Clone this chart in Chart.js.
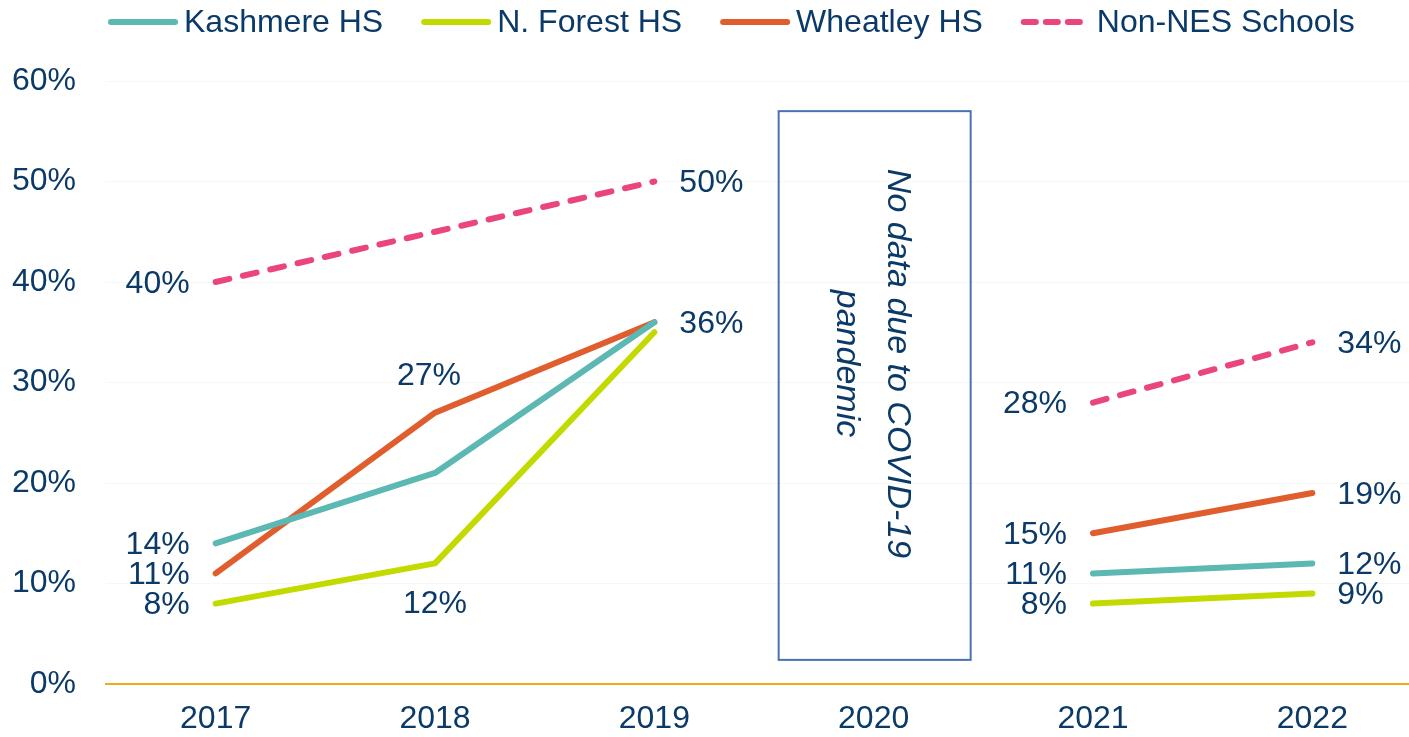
<!DOCTYPE html>
<html>
<head>
<meta charset="utf-8">
<script src="https://cdn.jsdelivr.net/npm/chart.js@4"></script>
<style>
  html, body { margin: 0; padding: 0; background: #fff; overflow: hidden; }
  #wrap { width: 1422px; height: 737px; }
</style>
</head>
<body>
<div id="wrap"><canvas id="chart"></canvas></div>
<script>
const years      = ['2017', '2018', '2019', '2020', '2021', '2022'];
const kashmere   = [14, 21, 36, null, 11, 12];
const northForest = [8, 12, 35, null, 8, 9];
const wheatley   = [11, 27, 36, null, 15, 19];
const nonNes     = [40, 45, 50, null, 28, 34];
const yTicks     = [0, 10, 20, 30, 40, 50, 60];

// where each value label goes (null = no label)
const kashmereLbl = ['left', null, 'right', null, 'left', 'right'];
const forestLbl   = ['left', 'below', null, null, 'left', 'right'];
const wheatleyLbl = ['left', 'above', null, null, 'left', 'right'];
const nonNesLbl   = ['left', null, 'right', null, 'left', 'right'];

const gapNote = ['No data due to COVID-19', 'pandemic'];

const NAVY = '#0B3A68';
const FONT = "'Liberation Sans', Arial, sans-serif";

const series = [
  { label: 'Kashmere HS',      data: kashmere,    color: '#5BB8B2', dash: [],       lbl: kashmereLbl },
  { label: 'N. Forest HS',     data: northForest, color: '#C3DA00', dash: [],       lbl: forestLbl },
  { label: 'Wheatley HS',      data: wheatley,    color: '#E05E2D', dash: [],       lbl: wheatleyLbl },
  { label: 'Non-NES Schools',  data: nonNes,      color: '#EA467B', dash: [14, 14], lbl: nonNesLbl },
];

const extras = {
  id: 'extras',
  afterDatasetsDraw(chart) {
    const { ctx, scales: { x, y } } = chart;
    ctx.save();

    // value labels
    ctx.font = `32px ${FONT}`;
    ctx.fillStyle = NAVY;
    ctx.textBaseline = 'middle';
    series.forEach(s => {
      s.data.forEach((v, i) => {
        const pos = s.lbl[i];
        if (v == null || !pos) return;
        const px = x.getPixelForValue(i), py = y.getPixelForValue(v);
        const txt = v + '%';
        if (pos === 'left')  { ctx.textAlign = 'right'; ctx.fillText(txt, px - 26, py + 2); }
        if (pos === 'right') { ctx.textAlign = 'left';  ctx.fillText(txt, px + 25, py + 2); }
        if (pos === 'above') { ctx.textAlign = 'center'; ctx.fillText(txt, px - 6, py - 36); }
        if (pos === 'below') { ctx.textAlign = 'center'; ctx.fillText(txt, px, py + 41); }
      });
    });

    // the 2020 box
    const cx = x.getPixelForValue(3);
    const top = y.getPixelForValue(57), bot = y.getPixelForValue(2.4);
    ctx.strokeStyle = '#4A72B2';
    ctx.lineWidth = 2;
    ctx.strokeRect(cx - 95, top, 192, bot - top);

    ctx.translate(cx, (top + bot) / 2 - 22);
    ctx.rotate(Math.PI / 2);
    ctx.font = `italic 34px ${FONT}`;
    ctx.textAlign = 'center';
    ctx.fillText(gapNote[0], 0, -24);
    ctx.fillText(gapNote[1], 0, 27);
    ctx.restore();

    // legend
    ctx.save();
    ctx.font = `32px ${FONT}`;
    ctx.textBaseline = 'middle';
    ctx.textAlign = 'left';
    let lx = 108;
    const ly = 22;
    series.forEach(s => {
      ctx.strokeStyle = s.color;
      ctx.lineWidth = 6;
      ctx.lineCap = 'round';
      ctx.setLineDash(s.dash.length ? [12, 10] : []);
      ctx.beginPath();
      ctx.moveTo(lx + 3, ly);
      ctx.lineTo(lx + 67, ly);
      ctx.stroke();
      ctx.setLineDash([]);
      ctx.fillStyle = NAVY;
      ctx.fillText(s.label, lx + 76, ly + 1);
      lx += 76 + ctx.measureText(s.label).width + 38;
    });
    ctx.restore();
  }
};

new Chart(document.getElementById('chart'), {
  type: 'line',
  data: {
    labels: years,
    datasets: series.map(s => ({
      label: s.label,
      data: s.data,
      borderColor: s.color,
      backgroundColor: s.color,
      borderWidth: 6,
      borderDash: s.dash,
      borderCapStyle: 'round',
      borderJoinStyle: 'round',
      pointRadius: 0,
      tension: 0,
      spanGaps: false,
    })),
  },
  options: {
    responsive: true, maintainAspectRatio: false, animation: false,
    layout: { padding: { top: 81, left: 12, right: 0, bottom: 0 } },
    plugins: { legend: { display: false }, tooltip: { enabled: false } },
    scales: {
      x: {
        offset: true,
        afterFit: ax => { ax.height = 53; },
        grid: { display: false, drawTicks: false },
        border: { color: '#F4A81D', width: 2 },
        ticks: { color: NAVY, font: { family: FONT, size: 32 }, padding: 16 },
      },
      y: {
        min: 0, max: 60,
        afterFit: ax => { ax.width = 94; },
        afterBuildTicks: ax => { ax.ticks = yTicks.map(v => ({ value: v })); },
        grid: { color: 'rgba(0,0,0,0.03)', drawTicks: false },
        border: { display: false },
        ticks: { color: NAVY, font: { family: FONT, size: 32 }, padding: 30, callback: v => v + '%' },
      },
    },
  },
  plugins: [extras],
});
</script>
</body>
</html>
